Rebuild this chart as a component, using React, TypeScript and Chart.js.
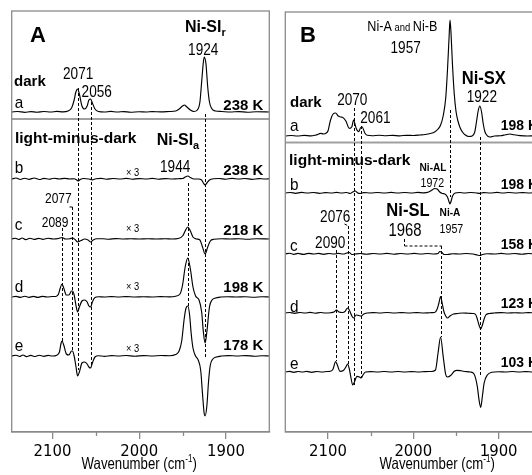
import { useEffect, useRef } from "react";
import { Chart, registerables } from "chart.js";

Chart.register(...registerables);

type Pt = [number, number];

// ---------- Panel A (Ni-SI states) : [wavenumber cm-1, relative absorbance] ----------
const A_a: Pt[] = [[2147,0],[2140,0.5],[2132,-0.3],[2125,0.4],[2118,-0.2],[2110,0.5],[2102,0],[2095,0.6],[2088,0.2],[2082,1],[2078,4],[2075,12],[2073,20],[2071,23],[2069,18],[2066,6],[2063,3],[2060,6],[2058,12],[2056,13],[2054,9],[2051,3],[2047,0.5],[2040,0],[2033,0.6],[2025,0],[2018,0.4],[2010,-0.2],[2000,0.3],[1992,0],[1985,0.4],[1975,0.1],[1965,0.5],[1958,1],[1954,3],[1950,6],[1948,7],[1945,5],[1941,2],[1937,0.5],[1933,2],[1930,10],[1928,30],[1926,50],[1925,55],[1923,48],[1921,25],[1919,10],[1916,3],[1912,1],[1905,0.5],[1895,0],[1885,0.4],[1875,-0.2],[1865,0.3],[1850,0]];
const A_b: Pt[] = [[2147,0],[2142,1],[2137,-0.5],[2132,0.8],[2127,-0.3],[2121,1],[2115,-0.5],[2110,0.6],[2104,-0.2],[2098,0.8],[2092,0],[2086,0.7],[2080,0],[2075,0.3],[2072,-1],[2070,-2],[2068,-0.5],[2064,0.5],[2058,0],[2054,-0.8],[2050,0.3],[2044,0.6],[2038,-0.2],[2030,0.5],[2022,0],[2015,0.6],[2008,-0.2],[2000,0.4],[1992,0],[1985,0.6],[1978,-0.2],[1970,0.4],[1962,0],[1955,0.3],[1950,0.5],[1947,2],[1944,3],[1941,1.5],[1937,0],[1932,0],[1928,-1],[1926,-4],[1924,-6],[1922,-4],[1919,-1],[1914,0.3],[1908,0.5],[1900,-0.2],[1893,0.6],[1885,0],[1878,0.5],[1870,-0.3],[1862,0.4],[1855,0],[1850,0.3]];
const A_c: Pt[] = [[2147,0],[2143,0.8],[2139,-0.5],[2135,1],[2131,-0.6],[2126,0.8],[2121,-0.4],[2116,0.7],[2111,-0.3],[2105,0.8],[2099,0],[2093,0.5],[2089,1.5],[2085,0],[2080,0.3],[2077,1],[2074,-0.5],[2071,-3],[2067,-1.5],[2063,0],[2059,-1],[2056,-3],[2053,-1],[2049,0.3],[2042,0.3],[2035,-0.2],[2027,0.4],[2018,0],[2010,0.3],[2000,0],[1990,0.3],[1980,0],[1970,0.3],[1962,0],[1955,0.5],[1950,3],[1947,8],[1944,12],[1941,8],[1938,2],[1934,0],[1930,-1],[1927,-8],[1924,-15],[1921,-8],[1918,-2],[1914,-0.3],[1905,0.3],[1895,0],[1885,0.3],[1875,-0.2],[1865,0.3],[1850,0]];
const A_d: Pt[] = [[2147,0],[2142,0.6],[2137,-0.4],[2132,0.8],[2127,-0.3],[2122,0.6],[2117,-0.4],[2112,0.7],[2106,0],[2100,0.5],[2096,0.5],[2093,3],[2091,9],[2089,13],[2087,9],[2084,2],[2081,2],[2078,6],[2077,6],[2075,2],[2073,-8],[2071,-15],[2069,-10],[2066,-4],[2063,-3],[2060,-5],[2058,-9],[2056,-10],[2054,-5],[2051,-0.5],[2047,0.3],[2040,0],[2032,0.4],[2024,0],[2015,0.4],[2005,0],[1995,0.3],[1985,0],[1975,0.4],[1965,0.2],[1958,0.8],[1953,3],[1950,12],[1947,30],[1944,39],[1941,28],[1938,10],[1935,1],[1931,-3],[1928,-15],[1926,-35],[1924,-46],[1922,-35],[1919,-10],[1916,-3],[1912,-1],[1906,0],[1898,0.3],[1888,0],[1878,0.3],[1868,-0.2],[1858,0.3],[1850,0]];
const A_e: Pt[] = [[2147,0],[2142,0.8],[2138,-0.5],[2134,1],[2130,-0.6],[2125,0.6],[2120,-0.5],[2115,0.8],[2110,-0.3],[2105,0.6],[2100,0],[2095,0.8],[2092,4],[2090,13],[2089,15],[2087,11],[2084,2],[2081,1],[2078,5],[2077,5],[2075,0],[2073,-10],[2071,-20],[2069,-16],[2066,-7],[2063,-6],[2060,-8],[2058,-11],[2056,-12],[2054,-7],[2051,-1],[2047,0.3],[2040,-0.3],[2032,0.4],[2024,0],[2015,0.5],[2005,-0.2],[1995,0.4],[1985,0],[1975,0.5],[1965,0.3],[1958,1.5],[1954,5],[1951,15],[1948,38],[1946,48],[1944,50],[1942,42],[1940,22],[1938,8],[1935,0],[1932,-4],[1929,-15],[1927,-38],[1925,-58],[1924,-60],[1922,-50],[1920,-25],[1918,-9],[1915,-3],[1911,-1],[1905,0],[1897,0.4],[1887,0],[1877,0.4],[1867,-0.2],[1858,0.3],[1850,0]];

// ---------- Panel B (Ni-A / Ni-B states) ----------
const B_a: Pt[] = [[2150,0],[2143,0.5],[2136,0],[2128,0.6],[2120,0.2],[2115,0.8],[2112,1.5],[2109,2.7],[2105,2],[2102,3],[2100,5],[2097,16],[2094,22],[2091,23],[2088,20],[2085,19],[2083,18.7],[2079,15],[2075,7.7],[2072,9.3],[2070,16],[2067,7.7],[2064,4.3],[2062,8],[2060,9.3],[2057,3.3],[2054,0.7],[2048,0.3],[2040,0.8],[2032,0.3],[2024,0.6],[2016,0.2],[2008,0.7],[2000,0.5],[1992,1],[1986,1.5],[1980,2.5],[1975,4],[1971,7],[1968,11],[1965,20],[1962,38],[1960,65],[1958,100],[1957,116],[1956,106],[1954,70],[1952,42],[1950,25],[1948,16],[1945,8],[1942,3.5],[1939,1],[1935,-0.5],[1931,0],[1928,4],[1926,14],[1924,25],[1922,30],[1920,24],[1918,12],[1916,4],[1913,0],[1910,-1],[1905,0],[1898,0.3],[1892,1.2],[1887,2],[1882,1.2],[1875,0.4],[1866,0],[1858,0.3],[1850,0]];
const B_b: Pt[] = [[2150,0],[2144,0.5],[2138,-0.3],[2131,0.6],[2124,0],[2117,0.5],[2110,-0.3],[2103,0.4],[2096,0],[2090,0.6],[2084,0],[2078,0.5],[2074,-0.5],[2071,1],[2068,2],[2065,0],[2062,-0.5],[2058,0.4],[2050,0],[2042,0.5],[2034,0],[2026,0.6],[2018,0],[2010,0.5],[2002,0],[1995,0.6],[1988,0.2],[1982,1],[1978,3],[1975,4.5],[1972,4],[1969,1],[1966,-0.5],[1963,-1],[1960,-4],[1958,-9],[1957,-11],[1956,-9],[1954,-3],[1951,0],[1946,0.5],[1940,0],[1933,0.5],[1926,0],[1922,-0.3],[1918,0.4],[1910,0],[1902,0.6],[1895,0],[1888,0.5],[1880,0],[1872,0.4],[1864,0],[1857,0.5],[1850,0]];
const B_c: Pt[] = [[2150,0],[2145,0.8],[2140,-0.3],[2135,0.6],[2129,-0.4],[2123,0.7],[2117,0],[2111,0.6],[2105,-0.3],[2099,0.5],[2093,0],[2088,0.6],[2082,0],[2078,1],[2075,1.5],[2072,-0.5],[2068,0],[2062,0.5],[2055,-0.2],[2047,0.5],[2039,0],[2031,0.6],[2023,-0.2],[2015,0.5],[2007,0],[1999,0.6],[1991,0],[1983,0.5],[1976,0],[1971,0.5],[1969,2.5],[1967,2],[1964,-0.5],[1960,-0.5],[1954,0.3],[1946,0],[1938,0.5],[1930,0],[1925,-1],[1922,-1.5],[1919,-0.5],[1913,0.3],[1905,0],[1897,0.6],[1889,0],[1881,0.5],[1873,-0.2],[1865,0.5],[1857,0],[1850,0.4]];
const B_d: Pt[] = [[2150,0],[2145,0.5],[2139,-0.3],[2133,0.5],[2127,0],[2121,0.6],[2115,-0.2],[2109,0.5],[2103,0],[2097,0.3],[2093,1],[2090,3],[2087,1],[2083,0.5],[2080,1.5],[2077,5],[2075,3],[2072,-3],[2070,-5],[2067,-2],[2064,-2.5],[2061,-3],[2058,-1],[2054,0],[2047,0.4],[2039,0],[2031,0.5],[2022,0],[2014,0.4],[2005,0],[1996,0.4],[1988,0],[1980,0.3],[1975,0.5],[1972,4],[1970,10],[1968,16.5],[1966,9],[1964,1],[1962,-3],[1960,-5],[1957,-3],[1953,-1],[1948,-0.5],[1942,0],[1935,-0.3],[1930,-0.5],[1927,-1.5],[1925,-6],[1923,-12],[1921,-16],[1919,-12],[1917,-6],[1915,-2],[1911,-0.5],[1905,0],[1897,0.4],[1889,0],[1881,0.3],[1873,0],[1865,0.4],[1857,0],[1850,0.3]];
const B_e: Pt[] = [[2150,0],[2145,0.6],[2140,-0.3],[2135,0.5],[2130,0],[2125,0.6],[2119,-0.3],[2113,0.5],[2107,0],[2101,0.5],[2097,0.7],[2094,3],[2091,10.5],[2089,7],[2086,0.7],[2082,1.5],[2079,5],[2077,8],[2075,3],[2073,-6],[2071,-13],[2069,-10],[2066,-4.3],[2063,-5],[2061,-6],[2059,-3],[2056,0],[2050,0.4],[2042,0],[2034,0.5],[2026,0],[2018,0.5],[2010,0],[2002,0.4],[1994,0],[1986,0.4],[1979,0.5],[1974,2],[1971,19],[1968,35],[1965,15.7],[1962,-2.7],[1960,-5],[1956,-3.3],[1952,0.7],[1949,1.7],[1944,1.2],[1941,0.7],[1933,0],[1929,-1.7],[1925,-14.3],[1923,-27.7],[1921,-35.3],[1919,-24],[1917,-11],[1913,-2.7],[1908,-0.3],[1900,0.3],[1892,0],[1884,0.5],[1876,0],[1868,0.4],[1860,0],[1850,0.3]];

// vertical offsets of the stacked spectra (a..e)
const offsetsA = [320, 253, 193, 135, 76];
const offsetsB = [296, 239, 178, 119, 60];

const majorTicks = [2100, 2000, 1900];
const minorTicks = [2050, 1950];

type Part = { t: string; size: number; bold?: boolean; sub?: boolean; sup?: boolean; sx?: number };
type Label = { wn: number; y: number; parts: Part[]; align?: "left" | "right" | "center" };
type Seg = [number, number, number, number];

const num = (t: string, size = 16, sx = 0.85): Part => ({ t, size, sx });
const bold = (t: string, size = 15): Part => ({ t, size, bold: true });
const letter = (t: string): Part => ({ t, size: 17, sx: 0.9 });
const times3: Part = { t: "× 3", size: 11, sx: 0.85 };

const labelsA: Label[] = [
  { wn: 2126, y: 390, parts: [{ t: "A", size: 22, bold: true }] },
  { wn: 1947.2, y: 400, parts: [bold("Ni-SI", 16), { t: "r", size: 11, bold: true, sub: true }] },
  { wn: 1943.6, y: 377, parts: [num("1924")] },
  { wn: 2144.3, y: 346, parts: [bold("dark")] },
  { wn: 2087.8, y: 353, parts: [num("2071")] },
  { wn: 2066.4, y: 335.3, parts: [num("2056")] },
  { wn: 2143.5, y: 323.7, parts: [letter("a")] },
  { wn: 1856.9, y: 322, parts: [bold("238 K")], align: "right" },
  { wn: 2143.2, y: 288.7, parts: [bold("light-minus-dark", 15.5)] },
  { wn: 1979.9, y: 287, parts: [bold("Ni-SI", 16), { t: "a", size: 11, bold: true, sub: true }] },
  { wn: 2143.5, y: 258.7, parts: [letter("b")] },
  { wn: 2015.2, y: 256.3, parts: [times3] },
  { wn: 1976, y: 260.3, parts: [num("1944")] },
  { wn: 1856.9, y: 257, parts: [bold("238 K")], align: "right" },
  { wn: 2108.6, y: 228.7, parts: [num("2077", 15, 0.8)] },
  { wn: 2112.4, y: 205.3, parts: [num("2089", 15, 0.8)] },
  { wn: 2143.5, y: 202, parts: [letter("c")] },
  { wn: 2015.2, y: 200.3, parts: [times3] },
  { wn: 1856.9, y: 197, parts: [bold("218 K")], align: "right" },
  { wn: 2143.5, y: 140.3, parts: [letter("d")] },
  { wn: 2015.2, y: 142, parts: [times3] },
  { wn: 1856.9, y: 140.3, parts: [bold("198 K")], align: "right" },
  { wn: 2143.5, y: 81.3, parts: [letter("e")] },
  { wn: 2015.2, y: 80.3, parts: [times3] },
  { wn: 1856.9, y: 82, parts: [bold("178 K")], align: "right" },
];

const kB = (t: string): Part => ({ t, size: 15, bold: true, sx: 0.93 });

const labelsB: Label[] = [
  { wn: 2132.7, y: 390, parts: [{ t: "B", size: 22, bold: true }] },
  { wn: 2053.9, y: 401.3, parts: [{ t: "Ni-A", size: 14, sx: 0.9 }, { t: " and ", size: 10.5, sx: 0.9 }, { t: "Ni-B", size: 14, sx: 0.9 }] },
  { wn: 2026.7, y: 378.7, parts: [num("1957")] },
  { wn: 1943.3, y: 348, parts: [{ t: "Ni-SX", size: 18, bold: true, sx: 0.92 }] },
  { wn: 1937.4, y: 330.3, parts: [num("1922")] },
  { wn: 2144.5, y: 325.3, parts: [bold("dark")] },
  { wn: 2089.2, y: 327, parts: [num("2070")] },
  { wn: 2062.1, y: 308.7, parts: [num("2061")] },
  { wn: 2144.5, y: 301.3, parts: [letter("a")] },
  { wn: 1897.5, y: 302, parts: [kB("198 K")] },
  { wn: 2145.6, y: 267, parts: [bold("light-minus-dark", 15.5)] },
  { wn: 1992.7, y: 261.3, parts: [{ t: "Ni-AL", size: 11, bold: true, sx: 0.92 }] },
  { wn: 1991.5, y: 244.7, parts: [num("1972", 12.5, 0.85)] },
  { wn: 2144.5, y: 242, parts: [letter("b")] },
  { wn: 1897.5, y: 242.7, parts: [kB("198 K")] },
  { wn: 2031.6, y: 216, parts: [{ t: "Ni-SL", size: 18, bold: true, sx: 0.92 }] },
  { wn: 1969.2, y: 216, parts: [{ t: "Ni-A", size: 11, bold: true, sx: 0.92 }] },
  { wn: 2109.2, y: 210.3, parts: [num("2076")] },
  { wn: 2029.2, y: 196, parts: [num("1968", 17.5, 0.85)] },
  { wn: 1969.2, y: 199.3, parts: [num("1957", 12.5, 0.85)] },
  { wn: 2115.1, y: 183.7, parts: [num("2090")] },
  { wn: 2144.5, y: 181.3, parts: [letter("c")] },
  { wn: 1897.5, y: 182.7, parts: [kB("158 K")] },
  { wn: 2144.5, y: 120.3, parts: [letter("d")] },
  { wn: 1897.5, y: 123.7, parts: [kB("123 K")] },
  { wn: 2144.5, y: 63, parts: [letter("e")] },
  { wn: 1897.5, y: 65.3, parts: [kB("103 K")] },
];

// dashed guide lines: [wn1, y1, wn2, y2]
const dashesA: Seg[] = [
  [2071, 344, 2071, 62], [2056, 330, 2056, 66], [1924, 318, 1924, 75],
  [1944, 249, 1944, 126], [2089, 204, 2089, 90], [2077, 225, 2077, 82],
  [2081, 225, 2077, 225],
];
const dashesB: Seg[] = [
  [2070, 324, 2070, 47], [2061, 306, 2061, 54], [1957, 322, 1957, 235],
  [1922, 295, 1922, 55], [2076, 206, 2076, 68], [2090, 182, 2090, 71],
  [1968, 186, 1968, 95], [2010.6, 186, 1968, 186], [2010.6, 193, 2010.6, 186],
  [2081, 208, 2076, 206],
];

const GREY = "#8a8a8a";
const FONT = '"Liberation Sans", Arial, Helvetica, sans-serif';

function drawLabel(ctx: CanvasRenderingContext2D, x: number, y: number, parts: Part[], align: string) {
  const widths = parts.map((p) => {
    ctx.font = `${p.bold ? "bold " : ""}${p.size}px ${FONT}`;
    return ctx.measureText(p.t).width * (p.sx ?? 1);
  });
  const total = widths.reduce((a, b) => a + b, 0);
  let cx = align === "right" ? x - total : align === "center" ? x - total / 2 : x;
  parts.forEach((p, i) => {
    ctx.save();
    ctx.font = `${p.bold ? "bold " : ""}${p.size}px ${FONT}`;
    ctx.fillStyle = "#000";
    ctx.textBaseline = "alphabetic";
    ctx.textAlign = "left";
    ctx.translate(cx, y + (p.sub ? 4 : 0) + (p.sup ? -7 : 0));
    ctx.scale(p.sx ?? 1, 1);
    ctx.fillText(p.t, 0, 0);
    ctx.restore();
    cx += widths[i];
  });
}

const decoPlugin = {
  id: "panelDeco",
  beforeDatasetsDraw(chart: any, _args: any, opts: any) {
    const { ctx, chartArea } = chart;
    const xs = chart.scales.x;
    const ys = chart.scales.y;
    ctx.save();
    // separator between dark spectrum and light-minus-dark spectra
    ctx.strokeStyle = "#a0a0a0";
    ctx.lineWidth = 2;
    ctx.beginPath();
    const sy = ys.getPixelForValue(opts.separator);
    ctx.moveTo(chartArea.left, sy);
    ctx.lineTo(chartArea.right, sy);
    ctx.stroke();
    // dashed guides
    ctx.strokeStyle = "#000";
    ctx.lineWidth = 1;
    ctx.setLineDash([3, 2]);
    for (const [w1, y1, w2, y2] of opts.dashes as Seg[]) {
      ctx.beginPath();
      ctx.moveTo(Math.round(xs.getPixelForValue(w1)) + 0.5, ys.getPixelForValue(y1));
      ctx.lineTo(Math.round(xs.getPixelForValue(w2)) + 0.5, ys.getPixelForValue(y2));
      ctx.stroke();
    }
    ctx.restore();
  },
  afterDraw(chart: any, _args: any, opts: any) {
    const { ctx, chartArea } = chart;
    const xs = chart.scales.x;
    const ys = chart.scales.y;
    ctx.save();
    // frame
    ctx.strokeStyle = GREY;
    ctx.lineWidth = 1.3;
    ctx.strokeRect(chartArea.left, chartArea.top, chartArea.right - chartArea.left, chartArea.bottom - chartArea.top);
    // minor ticks
    for (const m of minorTicks) {
      const px = Math.round(xs.getPixelForValue(m)) + 0.5;
      ctx.beginPath();
      ctx.moveTo(px, chartArea.bottom);
      ctx.lineTo(px, chartArea.bottom + 4);
      ctx.stroke();
    }
    ctx.restore();
    for (const l of opts.labels as Label[]) {
      drawLabel(ctx, xs.getPixelForValue(l.wn), ys.getPixelForValue(l.y), l.parts, l.align ?? "left");
    }
    drawLabel(ctx, xs.getPixelForValue(opts.titleWn), 469, [
      { t: "Wavenumber (cm", size: 16.5, sx: 0.8 },
      { t: "-1", size: 10, sup: true, sx: 0.8 },
      { t: ")", size: 16.5, sx: 0.8 },
    ], "center");
  },
};

function buildChart(canvas: HTMLCanvasElement, traces: Pt[][], offsets: number[], range: [number, number], yMax: number,
  pad: { left: number; right: number; top: number }, deco: any) {
  return new Chart(canvas, {
    type: "line",
    data: {
      datasets: traces.map((tr, i) => ({
        data: tr.map(([x, y]) => ({ x, y: y + offsets[i] })),
        borderColor: "#000",
        borderWidth: 1.15,
        pointRadius: 0,
        cubicInterpolationMode: "monotone" as const,
        fill: false,
      })),
    },
    options: {
      responsive: false,
      animation: false,
      devicePixelRatio: 1,
      layout: { padding: { left: pad.left, right: pad.right, top: pad.top, bottom: 0 } },
      plugins: { legend: { display: false }, tooltip: { enabled: false }, panelDeco: deco } as any,
      scales: {
        x: {
          type: "linear",
          reverse: true,
          min: range[0],
          max: range[1],
          afterBuildTicks: (s: any) => { s.ticks = majorTicks.map((v) => ({ value: v })); },
          afterFit: (s: any) => { s.height = 43; },
          grid: { display: true, drawOnChartArea: false, drawTicks: true, tickLength: 7, color: GREY, lineWidth: 1.3 },
          border: { display: true, color: GREY, width: 1.3 },
          ticks: {
            color: "#000",
            font: { family: '"Liberation Sans Narrow", "DejaVu Sans Condensed", "Liberation Sans", Arial, sans-serif', size: 16.5 },
            padding: 3, maxRotation: 0, autoSkip: false,
            callback: (v: any) => String(v),
          },
        },
        y: { display: false, min: 0, max: yMax },
      },
    },
    plugins: [decoPlugin],
  } as any);
}

export default function App() {
  const refA = useRef<HTMLCanvasElement>(null);
  const refB = useRef<HTMLCanvasElement>(null);
  useEffect(() => {
    const a = buildChart(refA.current!, [A_a, A_b, A_c, A_d, A_e], offsetsA, [1850, 2147], 421,
      { left: 11.7, right: 10.7, top: 11 },
      { labels: labelsA, dashes: dashesA, separator: 313, titleWn: 2000 });
    const b = buildChart(refB.current!, [B_a, B_b, B_c, B_d, B_e], offsetsB, [1850, 2150], 420,
      { left: 10.3, right: 13.7, top: 12 },
      { labels: labelsB, dashes: dashesB, separator: 289.5, titleWn: 1972 });
    return () => { a.destroy(); b.destroy(); };
  }, []);
  return (
    <div style={{ position: "fixed", left: 0, top: 0, width: 532, height: 475, overflow: "hidden", background: "#fff" }}>
      <canvas ref={refA} width={280} height={475} style={{ position: "absolute", left: 0, top: 0 }} />
      <canvas ref={refB} width={280} height={475} style={{ position: "absolute", left: 275, top: 0 }} />
    </div>
  );
}
